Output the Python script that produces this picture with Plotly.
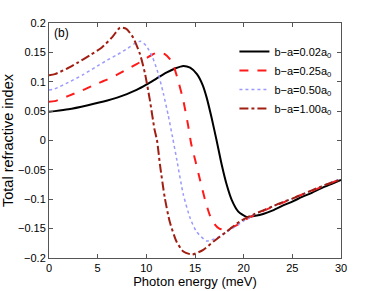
import plotly.graph_objects as go

x_black = [0, 0.6, 2, 4, 6, 7, 8, 9, 10, 11, 12, 13, 13.8, 14.5, 15.2, 15.8, 16.2, 16.7, 17.22, 17.74, 18.25, 18.77, 19.45, 20.3, 21.2, 22, 23, 24, 25, 26, 27, 28, 29, 30]
y_black = [0.049, 0.050, 0.053, 0.060, 0.068, 0.073, 0.079, 0.086, 0.095, 0.105, 0.115, 0.123, 0.127, 0.124, 0.113, 0.094, 0.073, 0.039, 0.0, -0.041, -0.075, -0.101, -0.121, -0.130, -0.128, -0.125, -0.119, -0.111, -0.104, -0.096, -0.089, -0.081, -0.074, -0.067]

x_red = [0, 0.6, 2, 3.5, 4.7, 6, 7, 8, 9, 10, 10.6, 11.2, 11.9, 12.4, 12.8, 13.3, 13.8, 14.3, 14.6, 15.0, 15.5, 16.0, 16.5, 17.0, 17.5, 18.2, 19.3, 20.6, 22, 23, 24, 25, 26, 27, 28, 29, 30]
y_red = [0.066, 0.067, 0.076, 0.086, 0.095, 0.104, 0.112, 0.121, 0.130, 0.140, 0.146, 0.150, 0.147, 0.139, 0.127, 0.100, 0.068, 0.025, -0.005, -0.032, -0.066, -0.099, -0.126, -0.142, -0.150, -0.152, -0.144, -0.131, -0.120, -0.113, -0.106, -0.099, -0.092, -0.086, -0.079, -0.072, -0.065]

x_blue = [0, 0.6, 2, 3.5, 4.7, 6, 7, 8.1, 8.8, 9.4, 10.0, 10.6, 11.2, 11.75, 12.25, 12.7, 13.1, 13.8, 14.5, 15.15, 16.2, 17.2, 18.6, 20, 21, 22, 23, 24, 25, 26, 27, 28, 29, 30]
y_blue = [0.086, 0.088, 0.099, 0.112, 0.124, 0.137, 0.146, 0.157, 0.165, 0.169, 0.161, 0.143, 0.115, 0.080, 0.043, 0.005, -0.030, -0.092, -0.132, -0.155, -0.171, -0.166, -0.152, -0.137, -0.127, -0.119, -0.112, -0.105, -0.099, -0.092, -0.085, -0.078, -0.071, -0.065]

x_brown = [0, 0.6, 1.8, 3, 4.2, 5.4, 6.5, 7.3, 7.95, 8.65, 9.35, 9.85, 10.35, 10.85, 11.1, 11.4, 11.9, 12.4, 13.1, 13.8, 14.7, 15.85, 16.9, 18.25, 19.6, 21, 22, 23, 24, 25, 26, 27, 28, 29, 30]
y_brown = [0.111, 0.113, 0.122, 0.133, 0.145, 0.158, 0.176, 0.192, 0.190, 0.175, 0.147, 0.115, 0.070, 0.018, 0.0, -0.041, -0.098, -0.138, -0.172, -0.189, -0.194, -0.186, -0.172, -0.155, -0.138, -0.126, -0.119, -0.112, -0.105, -0.099, -0.092, -0.085, -0.078, -0.072, -0.066]

names = ["b\u2212a=0.02a<sub>0</sub>", "b\u2212a=0.25a<sub>0</sub>",
         "b\u2212a=0.50a<sub>0</sub>", "b\u2212a=1.00a<sub>0</sub>"]

x_ticks = [0, 5, 10, 15, 20, 25, 30]
y_ticks = [-0.2, -0.15, -0.1, -0.05, 0, 0.05, 0.1, 0.15, 0.2]
y_tick_text = ["\u22120.2", "\u22120.15", "\u22120.1", "\u22120.05", "0", "0.05", "0.1", "0.15", "0.2"]

fig = go.Figure()
fig.add_trace(go.Scatter(x=x_black, y=y_black, mode="lines", name=names[0],
                         line=dict(color="black", width=2, shape="spline", smoothing=0.6)))
fig.add_trace(go.Scatter(x=x_red, y=y_red, mode="lines", name=names[1],
                         line=dict(color="#ff1a1a", width=2, dash="dash", shape="spline", smoothing=0.6)))
fig.add_trace(go.Scatter(x=x_blue, y=y_blue, mode="lines", name=names[2],
                         line=dict(color="#9999ff", width=1.5, dash="dot", shape="spline", smoothing=0.6)))
fig.add_trace(go.Scatter(x=x_brown, y=y_brown, mode="lines", name=names[3],
                         line=dict(color="#a01e12", width=2, dash="dashdot", shape="spline", smoothing=0.6)))

axis_common = dict(showgrid=False, zeroline=False, showline=True, linecolor="#555555",
                   linewidth=1, mirror="ticks", ticks="inside", ticklen=4,
                   tickcolor="#555555", tickfont=dict(size=11, color="black"),
                   automargin=False)

fig.update_layout(
    width=377, height=291,
    margin=dict(l=49, r=36, t=23, b=33, pad=0),
    paper_bgcolor="white", plot_bgcolor="white",
    font=dict(family="Liberation Sans, Arial, sans-serif", color="black"),
    xaxis=dict(range=[0, 30], tickvals=x_ticks,
               title=dict(text="Photon energy (meV)", font=dict(size=13), standoff=0), **axis_common),
    yaxis=dict(range=[-0.2, 0.2], tickvals=y_ticks, ticktext=y_tick_text,
               title=dict(text="Total refractive index", font=dict(size=14.5), standoff=0), **axis_common),
    legend=dict(x=0.635, y=0.94, xanchor="left", yanchor="top", bgcolor="rgba(0,0,0,0)",
                font=dict(size=11), tracegroupgap=0),
    showlegend=True,
    annotations=[dict(text="(b)", x=0.01, y=0.995, xref="paper", yref="paper",
                      xanchor="left", yanchor="top", showarrow=False, font=dict(size=12))],
)

fig.write_html("out.html", config={"displayModeBar": False},
               post_script="document.body.style.margin='0';document.body.style.overflow='hidden';")
